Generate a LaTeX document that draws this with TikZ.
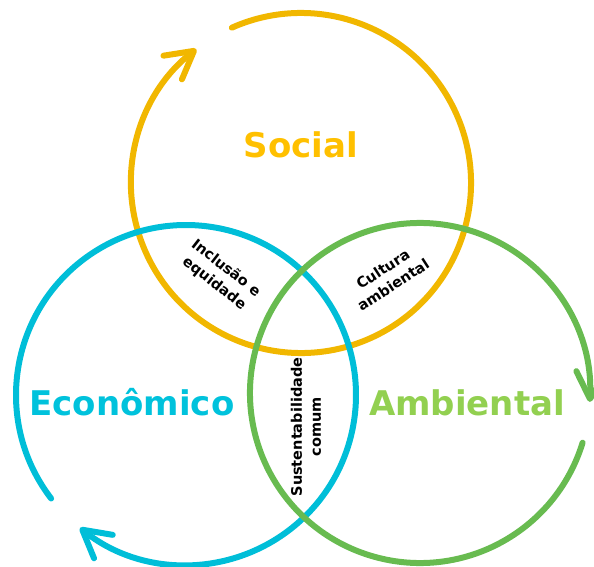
\documentclass[tikz,border=0pt]{standalone}
\usepackage{fontspec}
\setmainfont{DejaVu Sans}
\usetikzlibrary{arrows.meta}
\definecolor{socC}{RGB}{241,183,0}
\definecolor{socT}{RGB}{255,192,0}
\definecolor{ecoC}{RGB}{0,190,216}
\definecolor{ecoT}{RGB}{0,194,220}
\definecolor{ambC}{RGB}{104,187,80}
\definecolor{ambT}{RGB}{146,208,80}
\tikzset{
  ring/.style={line width=6pt, line cap=round,
    -{Straight Barb[length=27pt,width=30pt,round]}},
  bigtxt/.style={font=\fontsize{34}{40}\selectfont\bfseries, anchor=base},
  smalltxt/.style={font=\fontsize{14.5}{19}\selectfont\bfseries, align=center, text=black, inner sep=0pt}
}
\begin{document}
\begin{tikzpicture}[x=1pt,y=1pt]
\useasboundingbox (0,0) rectangle (594,566);
\coordinate (S) at (301,383);
\coordinate (E) at (186,171);
\coordinate (A) at (420,173);
% arcs
\draw[ring, socC] ([shift={(114:170)}]S) arc[start angle=114, end angle=-232, radius=170];
\draw[ring, ecoC] ([shift={(217.5:170)}]E) arc[start angle=217.5, end angle=-128.6, radius=170];
\draw[ring, ambC] ([shift={(-17:170)}]A) arc[start angle=-17, end angle=-363, radius=170];
% labels
\node[bigtxt, text=socT] (ls) at (301,408) {Social};
\node[bigtxt, text=ecoT] (le) at (132,151) {Econômico};
\node[bigtxt, text=ambT] (la) at (467,151) {Ambiental};
\node[smalltxt, rotate=-38] (li) at (220,290) {Inclusão e\\equidade};
\node[smalltxt, rotate=33] (lc) at (388,289) {Cultura\\ambiental};
\node[smalltxt, rotate=90] (lsc) at (306,139) {Sustentabilidade\\comum};
\end{tikzpicture}
\end{document}
